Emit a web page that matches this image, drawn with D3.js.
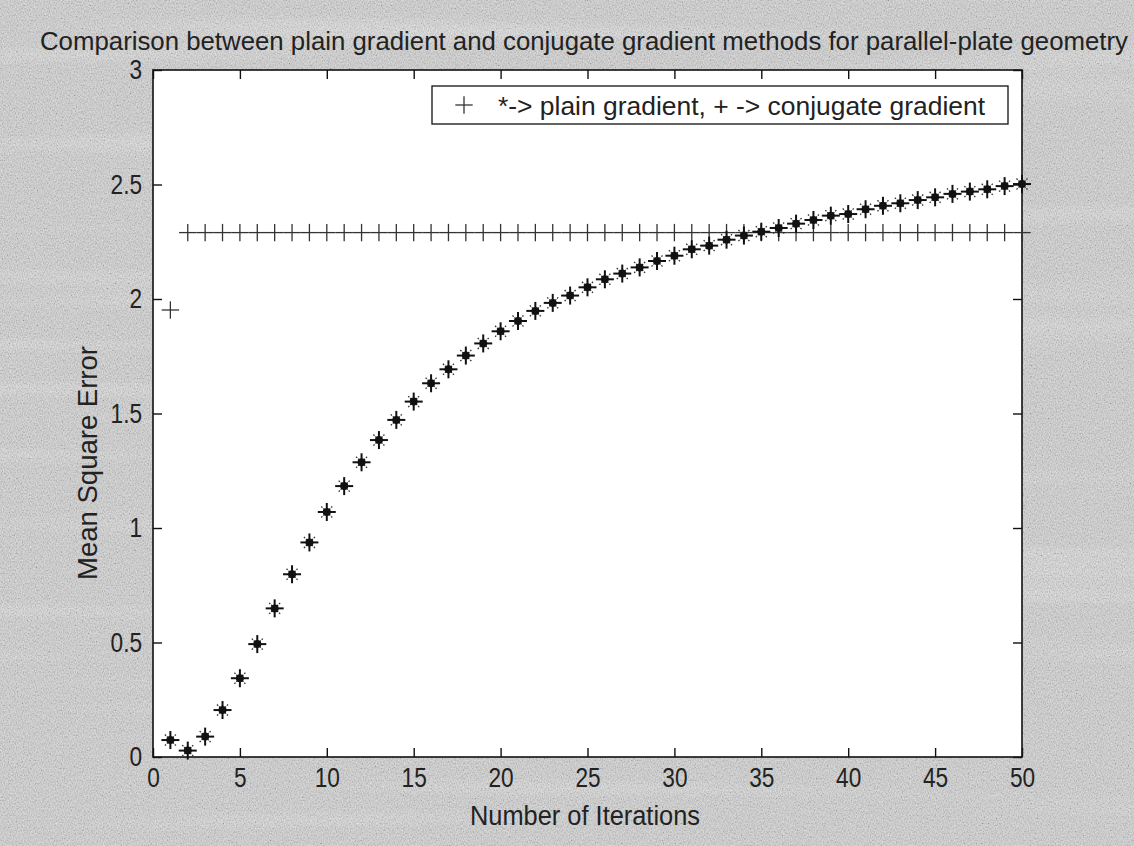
<!DOCTYPE html>
<html>
<head>
<meta charset="utf-8">
<script src="https://cdn.jsdelivr.net/npm/d3@7"></script>
<style>
  html, body { margin: 0; padding: 0; background: #d4d4d4; }
  svg { display: block; }
</style>
</head>
<body>
<script>
// Iteration counts and mean square error for each method
const iterations = d3.range(1, 51);
const plainGradient = [
  0.074, 0.028, 0.089, 0.205, 0.344, 0.493, 0.649, 0.798, 0.937, 1.070,
  1.183, 1.287, 1.384, 1.472, 1.552, 1.632, 1.693, 1.753, 1.806, 1.859,
  1.904, 1.948, 1.983, 2.015, 2.051, 2.086, 2.111, 2.138, 2.166, 2.189,
  2.217, 2.233, 2.259, 2.277, 2.294, 2.310, 2.329, 2.345, 2.364, 2.371,
  2.392, 2.407, 2.418, 2.432, 2.444, 2.459, 2.469, 2.479, 2.493, 2.502
];
const conjugateGradient = [
  1.952, 2.290, 2.290, 2.290, 2.290, 2.290, 2.290, 2.290, 2.290, 2.290,
  2.290, 2.290, 2.290, 2.290, 2.290, 2.290, 2.290, 2.290, 2.290, 2.290,
  2.290, 2.290, 2.290, 2.290, 2.290, 2.290, 2.290, 2.290, 2.290, 2.290,
  2.290, 2.290, 2.290, 2.290, 2.290, 2.290, 2.290, 2.290, 2.290, 2.290,
  2.290, 2.290, 2.290, 2.290, 2.290, 2.290, 2.290, 2.290, 2.290, 2.290
];
const xTicks = [0, 5, 10, 15, 20, 25, 30, 35, 40, 45, 50];
const yTicks = [0, 0.5, 1, 1.5, 2, 2.5, 3];

const titleText = "Comparison between plain gradient and conjugate gradient methods for parallel-plate geometry";
const xLabelText = "Number of Iterations";
const yLabelText = "Mean Square Error";
const legendText = "*-> plain gradient, + -> conjugate gradient";

const W = 1134, H = 846;
const FONT = "'Liberation Sans', Arial, sans-serif";
const box = { left: 153, right: 1022, top: 70, bottom: 757 };

const svg = d3.select("body").append("svg")
  .attr("width", W).attr("height", H);

// grainy grey backdrop with faint light bands
const defs = svg.append("defs");
const grain = defs.append("filter").attr("id", "grain")
  .attr("x", 0).attr("y", 0).attr("width", "100%").attr("height", "100%");
grain.append("feTurbulence").attr("type", "fractalNoise")
  .attr("baseFrequency", "0.85 0.6").attr("numOctaves", 2).attr("seed", 7).attr("result", "n");
grain.append("feColorMatrix").attr("in", "n").attr("type", "matrix")
  .attr("values", "1.4 0 0 0 -0.2  1.4 0 0 0 -0.2  1.4 0 0 0 -0.2  0 0 0 0 0.28");
const streaks = defs.append("filter").attr("id", "streaks")
  .attr("x", 0).attr("y", 0).attr("width", "100%").attr("height", "100%");
streaks.append("feTurbulence").attr("type", "fractalNoise")
  .attr("baseFrequency", "0.0015 0.045").attr("numOctaves", 1).attr("seed", 3).attr("result", "s");
streaks.append("feColorMatrix").attr("in", "s").attr("type", "matrix")
  .attr("values", "0 0 0 0 1  0 0 0 0 1  0 0 0 0 1  1.6 0 0 0 -0.85");
svg.append("rect").attr("width", W).attr("height", H).attr("fill", "#d0d0d0");
svg.append("rect").attr("width", W).attr("height", H).attr("filter", "url(#streaks)")
  .attr("opacity", 0.6);
svg.append("rect").attr("width", W).attr("height", H).attr("filter", "url(#grain)");

const x = d3.scaleLinear().domain([0, 50]).range([box.left, box.right]);
const y = d3.scaleLinear().domain([0, 3]).range([box.bottom, box.top]);

// plot area
svg.append("rect")
  .attr("x", box.left).attr("y", box.top)
  .attr("width", box.right - box.left).attr("height", box.bottom - box.top)
  .attr("fill", "#ffffff").attr("stroke", "#111").attr("stroke-width", 1.6);

const tickLen = 9;
const squeeze = 0.84;
const axisStyle = g => {
  g.select(".domain").remove();
  g.selectAll(".tick line").attr("stroke", "#111").attr("stroke-width", 1.4);
  g.selectAll(".tick text").attr("fill", "#222")
    .attr("transform", `scale(${squeeze},1)`)
    .style("font-family", FONT).style("font-size", "27px");
};

// bottom / left axes with inward ticks
svg.append("g").attr("transform", `translate(0,${box.bottom})`)
  .call(d3.axisBottom(x).tickValues(xTicks).tickFormat(d3.format("d"))
    .tickSizeInner(-tickLen).tickSizeOuter(0).tickPadding(11))
  .call(axisStyle);
svg.append("g").attr("transform", `translate(${box.left},0)`)
  .call(d3.axisLeft(y).tickValues(yTicks).tickFormat(d => d3.format("")(d))
    .tickSizeInner(-tickLen).tickSizeOuter(0).tickPadding(13))
  .call(axisStyle);
// mirrored ticks on top / right
svg.append("g").attr("transform", `translate(0,${box.top})`)
  .call(d3.axisTop(x).tickValues(xTicks).tickFormat("")
    .tickSizeInner(-tickLen).tickSizeOuter(0))
  .call(axisStyle);
svg.append("g").attr("transform", `translate(${box.right},0)`)
  .call(d3.axisRight(y).tickValues(yTicks).tickFormat("")
    .tickSizeInner(-tickLen).tickSizeOuter(0))
  .call(axisStyle);

// conjugate gradient: '+' markers
const arm = 8.7;
const cg = svg.append("g").attr("stroke", "#333").attr("stroke-width", 1.3);
iterations.forEach((it, i) => {
  const cx = x(it), cy = y(conjugateGradient[i]);
  cg.append("line").attr("x1", cx - arm).attr("x2", cx + arm).attr("y1", cy).attr("y2", cy);
  cg.append("line").attr("x1", cx).attr("x2", cx).attr("y1", cy - arm).attr("y2", cy + arm);
});

// plain gradient: '*' markers
const pg = svg.append("g");
iterations.forEach((it, i) => {
  const cx = x(it), cy = y(plainGradient[i]);
  const g = pg.append("g").attr("transform", `translate(${cx},${cy})`);
  g.append("line").attr("x1", -9).attr("x2", 9).attr("y1", 0).attr("y2", 0)
    .attr("stroke", "#111").attr("stroke-width", 2);
  g.append("line").attr("x1", 0).attr("x2", 0).attr("y1", -9).attr("y2", 9)
    .attr("stroke", "#111").attr("stroke-width", 2);
  const d = 5.5;
  g.append("line").attr("x1", -d).attr("x2", d).attr("y1", -d).attr("y2", d)
    .attr("stroke", "#333").attr("stroke-width", 1.3).attr("stroke-dasharray", "1.6 1.2");
  g.append("line").attr("x1", -d).attr("x2", d).attr("y1", d).attr("y2", -d)
    .attr("stroke", "#333").attr("stroke-width", 1.3).attr("stroke-dasharray", "1.6 1.2");
  g.append("circle").attr("r", 4).attr("fill", "#111");
});

// legend
const lg = svg.append("g");
lg.append("rect").attr("x", 432).attr("y", 86).attr("width", 576).attr("height", 38)
  .attr("fill", "#fff").attr("stroke", "#111").attr("stroke-width", 1.3);
lg.append("line").attr("x1", 464 - arm).attr("x2", 464 + arm).attr("y1", 105).attr("y2", 105)
  .attr("stroke", "#333").attr("stroke-width", 1.3);
lg.append("line").attr("x1", 464).attr("x2", 464).attr("y1", 105 - arm).attr("y2", 105 + arm)
  .attr("stroke", "#333").attr("stroke-width", 1.3);
lg.append("text").attr("x", 498).attr("y", 115)
  .attr("textLength", 487).attr("lengthAdjust", "spacingAndGlyphs")
  .style("font-family", FONT).style("font-size", "26px").attr("fill", "#222")
  .text(legendText);

// title and axis labels
svg.append("text").attr("x", 40).attr("y", 50)
  .attr("textLength", 1088).attr("lengthAdjust", "spacingAndGlyphs")
  .style("font-family", FONT).style("font-size", "25px").attr("fill", "#222")
  .text(titleText);
svg.append("text").attr("x", 470).attr("y", 825)
  .attr("textLength", 230).attr("lengthAdjust", "spacingAndGlyphs")
  .style("font-family", FONT).style("font-size", "27px").attr("fill", "#222")
  .text(xLabelText);
svg.append("text").attr("transform", "translate(97,580) rotate(-90)")
  .attr("textLength", 234).attr("lengthAdjust", "spacingAndGlyphs")
  .style("font-family", FONT).style("font-size", "27px").attr("fill", "#222")
  .text(yLabelText);
</script>
</body>
</html>
